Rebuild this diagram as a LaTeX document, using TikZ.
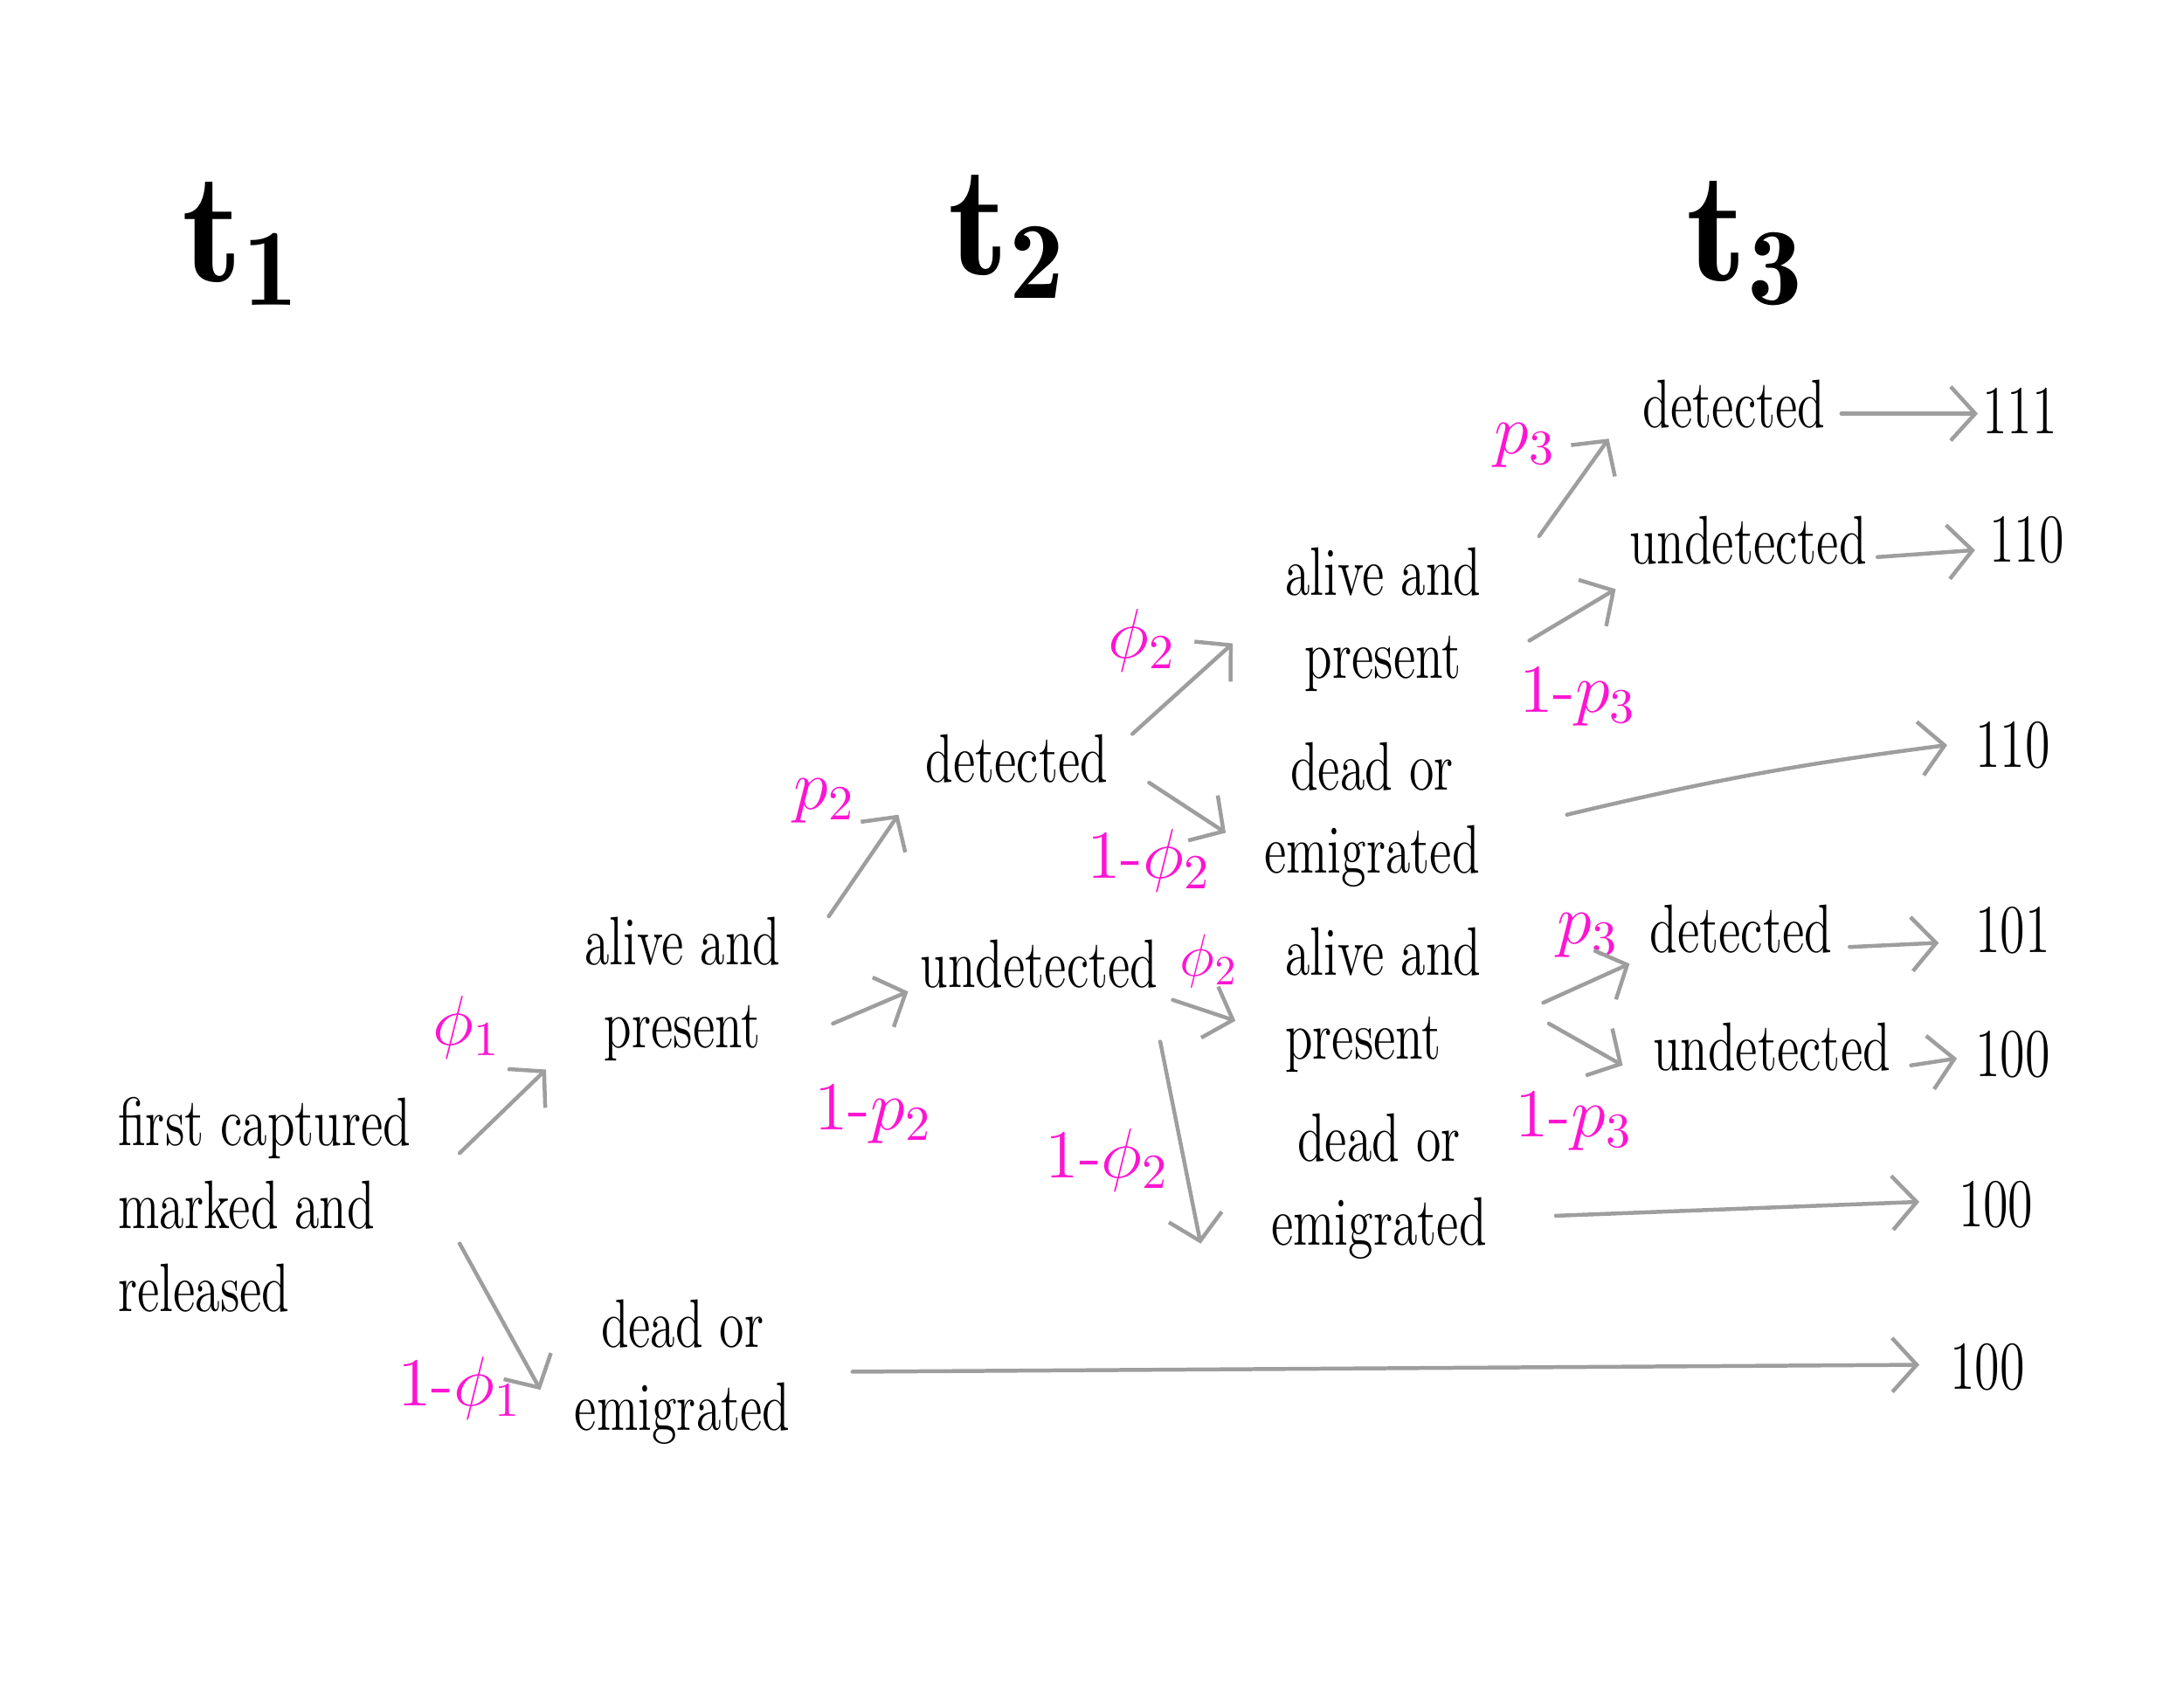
\documentclass[tikz,border=0pt]{standalone}
\usepackage{fontspec}
\newfontfamily\hand{Latin Modern Roman}[FakeStretch=0.74]
\usetikzlibrary{arrows.meta,calc}
\definecolor{pinkc}{HTML}{FF14D2}
\definecolor{arrg}{HTML}{9E9E9E}
\tikzset{
 txt/.style={font=\hand\fontsize{14}{17}\selectfont, inner sep=1pt, align=center},
 lab/.style={text=pinkc, font=\fontsize{14}{17}\selectfont, inner sep=1pt},
 arr/.style={draw=arrg, line width=0.8pt, line cap=round, -{Straight Barb[length=5pt,width=11pt]}},
 big/.style={scale=3.2, inner sep=0pt}
}
\begin{document}
\begin{tikzpicture}[x=0.01cm,y=-0.01cm]
\useasboundingbox (0,0) rectangle (1568,1214);
% time headers
\node[big] (t1) at (175,175) {$\mathbf{t}_{\mathbf{1}}$};
\node[big] (t2) at (725,170) {$\mathbf{t}_{\mathbf{2}}$};
\node[big] (t3) at (1255,175) {$\mathbf{t}_{\mathbf{3}}$};
% states
\node[txt, align=left] (first) at (190,865) {first captured\\marked and\\released};
\node[txt] (alive1) at (490,710) {alive and\\present};
\node[txt] (dead1) at (490,985) {dead or\\emigrated};
\node[txt] (det2) at (730,545) {detected};
\node[txt] (und2) at (746,692) {undetected};
\node[txt] (aliveA) at (993,445) {alive and\\present};
\node[txt] (deadA) at (985,585) {dead or\\emigrated};
\node[txt, align=left] (aliveB) at (993,718) {alive and\\present};
\node[txt] (deadB) at (990,852) {dead or\\emigrated};
\node[txt] (det3a) at (1245,290) {detected};
\node[txt] (und3a) at (1255,388) {undetected};
\node[txt] (det3b) at (1250,667) {detected};
\node[txt] (und3b) at (1272,752) {undetected};
% outcomes
\node[txt] (o1) at (1450,295) {111};
\node[txt] (o2) at (1455,388) {110};
\node[txt] (o3) at (1445,535) {110};
\node[txt] (o4) at (1445,668) {101};
\node[txt] (o5) at (1445,757) {100};
\node[txt] (o6) at (1433,865) {100};
\node[txt] (o7) at (1427,982) {100};
% probabilities
\node[lab] (l1) at (335,738) {$\phi_1$};
\node[lab] (l2) at (330,997) {1-$\phi_1$};
\node[lab] (l3) at (592,575) {$p_2$};
\node[lab] (l4) at (627,800) {1-$p_2$};
\node[lab] (l5) at (820,460) {$\phi_2$};
\node[lab] (l6) at (825,618) {1-$\phi_2$};
\node[lab, scale=0.85] (l7) at (868,690) {$\phi_2$};
\node[lab] (l8) at (795,833) {1-$\phi_2$};
\node[lab] (l9) at (1095,320) {$p_3$};
\node[lab] (l10) at (1133,500) {1-$p_3$};
\node[lab] (l11) at (1140,672) {$p_3$};
\node[lab] (l12) at (1130,805) {1-$p_3$};
% connectors
\draw[arr] ($(first)+(140,-37)$) -- ($(alive1)+(-98,58)$);
\draw[arr] ($(first)+(140,28)$) -- ($(dead1)+(-102,13)$);
\draw[arr] ($(alive1)+(105,-52)$) -- ($(det2)+(-85,40)$);
\draw[arr] ($(alive1)+(108,25)$) -- ($(und2)+(-94,20)$);
\draw[arr] ($(det2)+(83,-18)$) -- ($(aliveA)+(-108,17)$);
\draw[arr] ($(det2)+(95,17)$) -- ($(deadA)+(-105,13)$);
\draw[arr] ($(und2)+(96,26)$) -- ($(aliveB)+(-106,15)$);
\draw[arr] ($(und2)+(87,56)$) -- ($(deadB)+(-128,41)$);
\draw[arr] ($(aliveA)+(112,-60)$) -- ($(det3a)+(-90,25)$);
\draw[arr] ($(aliveA)+(105,15)$) -- ($(und3a)+(-95,35)$);
\draw[arr] ($(deadA)+(140,0)$) to[bend left=3] ($(o3)+(-47,0)$);
\draw[arr] ($(aliveB)+(115,2)$) -- ($(det3b)+(-80,25)$);
\draw[arr] ($(aliveB)+(119,17)$) -- ($(und3b)+(-107,13)$);
\draw[arr] ($(deadB)+(127,21)$) -- ($(o6)+(-55,-2)$);
\draw[arr] ($(dead1)+(122,0)$) -- ($(o7)+(-49,-2)$);
\draw[arr] ($(det3a)+(77,7)$) -- ($(o1)+(-30,2)$);
\draw[arr] ($(und3a)+(93,12)$) -- ($(o2)+(-37,7)$);
\draw[arr] ($(det3b)+(78,13)$) -- ($(o4)+(-53,9)$);
\draw[arr] ($(und3b)+(100,13)$) -- ($(o5)+(-40,3)$);
\end{tikzpicture}
\end{document}
